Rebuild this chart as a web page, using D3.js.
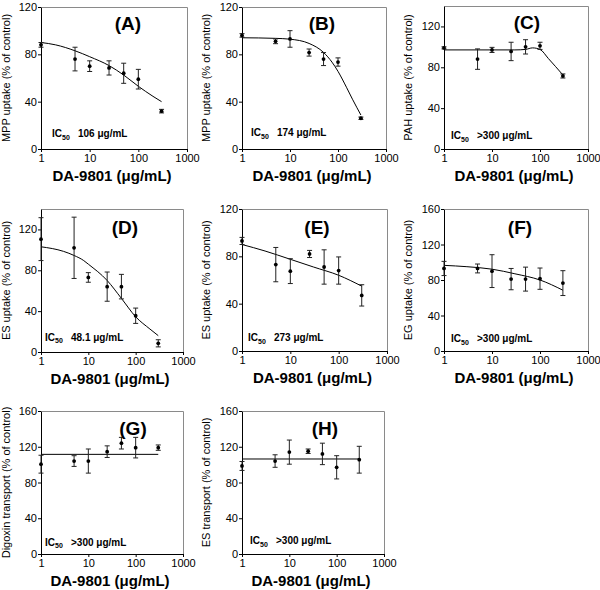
<!DOCTYPE html>
<html><head><meta charset="utf-8">
<script src="https://cdn.jsdelivr.net/npm/d3@7"></script>
<style>
body{margin:0;background:#fff}
text{font-family:"Liberation Sans",Arial,Helvetica,sans-serif}
</style>
</head><body>
<svg id="c" width="600" height="590"></svg>
<script>
// ---------- data ----------
const doses = [1, 5, 10, 25, 50, 100, 300];
const xTicks = [1, 10, 100, 1000];
const panelIds = ["A", "B", "C", "D", "E", "F", "G", "H"];
const yTitles = [
  "MPP uptake (% of control)", "MPP uptake (% of control)", "PAH uptake (% of control)",
  "ES uptake (% of control)", "ES uptake (% of control)", "EG uptake (% of control)",
  "Digoxin transport (% of control)", "ES transport (% of control)"
];
const xTitle = "DA-9801 (\u03bcg/mL)";
const ic50Values = ["106 \u03bcg/mL", "174 \u03bcg/mL", ">300 \u03bcg/mL", "48.1 \u03bcg/mL",
                    "273 \u03bcg/mL", ">300 \u03bcg/mL", ">300 \u03bcg/mL", ">300 \u03bcg/mL"];
const yMax = [120, 120, 140, 140, 120, 160, 160, 160];
const yTicks120 = [0, 40, 80, 120];
const yTicks160 = [0, 40, 80, 120, 160];

const meanA = [88, 76, 70, 68.5, 64, 59, 32];
const errA  = [2, 10, 4.5, 6, 8.5, 8.3, 1.5];
const meanB = [96, 91, 93, 81.5, 76, 73.5, 26];
const errB  = [1.5, 2, 7, 3, 5.5, 3.5, 1];
const meanC = [99, 88, 97, 95.5, 100, 101, 71.5];
const errC  = [1, 10, 2.5, 9, 7, 3.5, 2];
const meanD = [110.5, 102, 73, 64, 64, 35.5, 8.5];
const errD  = [21, 30, 4.7, 14.3, 12, 7.5, 3.5];
const meanE = [93, 73, 67.5, 82, 71, 68, 47];
const errE  = [3, 14.5, 10.5, 3, 14.5, 11.5, 9];
const meanF = [93, 93, 90, 81, 81, 81.5, 76.5];
const errF  = [8, 5, 18.5, 12, 13.5, 12, 14];
const meanG = [100.5, 104, 104, 114.5, 124, 119, 119];
const errG  = [10, 6, 13.5, 6.5, 6.5, 11.5, 3];
const meanH = [98.5, 104, 114, 115, 112, 97, 105.5];
const errH  = [5, 7, 13.5, 2.5, 12, 13, 15];

const fitXA = [1, 2, 5, 10, 25, 50, 100, 200, 300];
const fitYA = [90, 88, 83, 78, 70.5, 62.5, 53, 44.5, 40];
const fitXB = [1, 5, 10, 25, 50, 75, 100, 150, 200, 300];
const fitYB = [94, 93.5, 92.8, 89.2, 81.6, 73.4, 65.6, 52.2, 42.1, 28.7];
const fitXC = [1, 10, 30, 50, 70, 100, 150, 300];
const fitYC = [97, 97, 97, 97.5, 99, 97.5, 88.5, 72.5];
const fitXD = [1, 3, 5, 8, 10, 25, 50, 100, 200, 300];
const fitYD = [103, 98.5, 94.5, 89.5, 86, 70, 52.5, 34.5, 22.5, 16];
const fitXE = [1, 3, 10, 30, 100, 300];
const fitYE = [90, 84.5, 77.5, 71, 64, 54.8];
const fitXF = [1, 3, 10, 30, 100, 300];
const fitYF = [96.5, 95, 92.2, 87, 80, 68.5];
const fitXG = [1, 300];
const fitYG = [111.5, 111.5];
const fitXH = [1, 300];
const fitYH = [106.3, 106.3];

const means = [meanA, meanB, meanC, meanD, meanE, meanF, meanG, meanH];
const errs = [errA, errB, errC, errD, errE, errF, errG, errH];
const fitXs = [fitXA, fitXB, fitXC, fitXD, fitXE, fitXF, fitXG, fitXH];
const fitYs = [fitYA, fitYB, fitYC, fitYD, fitYE, fitYF, fitYG, fitYH];

// ---------- layout ----------
const boxes = [
  {l: 41, r: 187, t: 7, b: 149}, {l: 242, r: 386, t: 7, b: 149}, {l: 444, r: 588, t: 6, b: 149},
  {l: 41, r: 183, t: 209, b: 352}, {l: 242, r: 387, t: 209, b: 351}, {l: 444, r: 588, t: 209, b: 351},
  {l: 41, r: 183, t: 411, b: 554}, {l: 242, r: 384, t: 411, b: 554}
];
const labelPos = [[128, 30], [322, 30], [527, 29], [125, 234], [317, 234], [520, 234], [133, 435], [325, 435]];
const icPos = [[52, 137], [251, 136], [451, 139], [45, 340.5], [248, 341], [451, 342], [45, 545.5], [250, 544]];
const yTitleX = [10, 210, 411.5, 10, 210, 411.5, 10, 210];

const svg = d3.select("#c");

panelIds.forEach((id, i) => {
  const bx = boxes[i];
  const g = svg.append("g");
  const x = d3.scaleLog().domain([1, 1000]).range([bx.l, bx.r]);
  const y = d3.scaleLinear().domain([0, yMax[i]]).range([bx.b, bx.t]);
  const yt = yMax[i] === 160 ? yTicks160 : yTicks120;

  // frame top/right
  g.append("path")
    .attr("d", `M${bx.l + 0.5},${bx.t + 0.5}H${bx.r + 0.5}V${bx.b + 0.5}`)
    .attr("fill", "none").attr("stroke", "#8a8a8a").attr("stroke-width", 1);

  const xa = g.append("g").attr("transform", `translate(0,${bx.b})`)
    .call(d3.axisBottom(x).tickValues(xTicks).tickFormat(d3.format("d"))
      .tickSize(3).tickSizeOuter(0).tickPadding(2));
  const ya = g.append("g").attr("transform", `translate(${bx.l},0)`)
    .call(d3.axisLeft(y).tickValues(yt).tickSize(3).tickSizeOuter(0).tickPadding(1));
  [xa, ya].forEach(a => {
    a.attr("font-size", null).attr("font-family", null);
    a.selectAll("text").attr("font-size", 11).attr("fill", "#000");
    a.selectAll("path,line").attr("stroke", "#000");
  });

  // fitted curve
  const pts = fitXs[i].map((v, k) => [v, fitYs[i][k]]);
  g.append("path").datum(pts)
    .attr("d", d3.line().x(d => x(d[0])).y(d => y(d[1])).curve(d3.curveMonotoneX))
    .attr("fill", "none").attr("stroke", "#000").attr("stroke-width", 1);

  // error bars + points
  const data = doses.map((d, k) => ({d, m: means[i][k], e: errs[i][k]}));
  const eg = g.append("g").attr("stroke", "#222").attr("stroke-width", 1);
  data.forEach(o => {
    const cx = x(o.d), y1 = y(o.m - o.e), y2 = y(o.m + o.e);
    eg.append("line").attr("x1", cx).attr("x2", cx).attr("y1", y1).attr("y2", y2);
    eg.append("line").attr("x1", cx - 2.5).attr("x2", cx + 2.5).attr("y1", y1).attr("y2", y1);
    eg.append("line").attr("x1", cx - 2.5).attr("x2", cx + 2.5).attr("y1", y2).attr("y2", y2);
  });
  g.selectAll("circle.pt").data(data).join("circle")
    .attr("cx", o => x(o.d)).attr("cy", o => y(o.m)).attr("r", 1.9).attr("fill", "#000");

  // panel label
  g.append("text").attr("x", labelPos[i][0]).attr("y", labelPos[i][1])
    .attr("text-anchor", "middle").attr("font-size", 19).attr("font-weight", "bold")
    .text(`(${id})`);

  // IC50
  const ic = g.append("text").attr("x", icPos[i][0]).attr("y", icPos[i][1])
    .attr("font-size", 10).attr("font-weight", "bold");
  ic.append("tspan").text("IC");
  ic.append("tspan").attr("font-size", 7).attr("dy", 2.5).text("50");
  ic.append("tspan").attr("x", icPos[i][0] + 26).attr("dy", -2.5).text(ic50Values[i]);

  // axis titles
  g.append("text").attr("x", (bx.l + bx.r) / 2 - 2).attr("y", bx.b + 32)
    .attr("text-anchor", "middle").attr("font-size", 15).attr("font-weight", "bold")
    .text(xTitle);
  g.append("text")
    .attr("transform", `translate(${yTitleX[i]},${(bx.t + bx.b) / 2}) rotate(-90)`)
    .attr("text-anchor", "middle").attr("font-size", 11)
    .text(yTitles[i]);
});
</script>
</body></html>
